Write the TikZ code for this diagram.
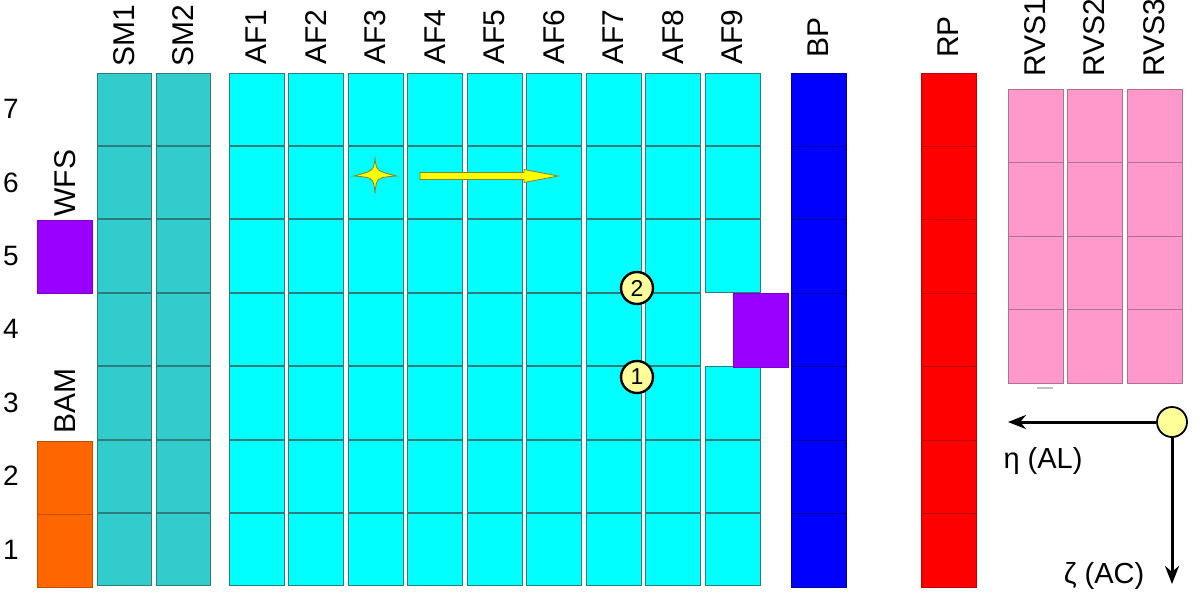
\documentclass[tikz,border=0pt]{standalone}
\usepackage{fontspec}
\setmainfont{Liberation Sans}
\usetikzlibrary{arrows.meta}
\definecolor{smteal}{RGB}{51,204,204}
\definecolor{afcyan}{RGB}{0,255,255}
\definecolor{tileb}{RGB}{45,125,125}
\definecolor{bpblue}{RGB}{0,0,255}
\definecolor{bpline}{RGB}{0,0,160}
\definecolor{rpred}{RGB}{255,0,0}
\definecolor{rpline}{RGB}{190,0,0}
\definecolor{rvspink}{RGB}{255,153,204}
\definecolor{rvsline}{RGB}{176,112,144}
\definecolor{wfspurple}{RGB}{153,0,255}
\definecolor{bamorange}{RGB}{255,102,0}
\definecolor{bamline}{RGB}{190,80,0}
\definecolor{markyellow}{RGB}{255,255,153}
\definecolor{staryellow}{RGB}{255,255,0}
\definecolor{starline}{RGB}{130,130,40}
\tikzset{
  smtile/.style={fill=smteal,draw=tileb,line width=0.5pt},
  aftile/.style={fill=afcyan,draw=tileb,line width=0.5pt},
  bptile/.style={fill=bpblue,draw=bpline,line width=0.5pt},
  rptile/.style={fill=rpred,draw=rpline,line width=0.5pt},
  rvstile/.style={fill=rvspink,draw=rvsline,line width=0.5pt},
  wfstile/.style={fill=wfspurple,draw=wfspurple!80!black,line width=0.5pt},
  bamtile/.style={fill=bamorange,draw=bamline,line width=0.5pt},
  collabel/.style={rotate=90,font=\fontsize{15}{17}\selectfont,inner sep=0pt},
  rowlabel/.style={font=\fontsize{14}{16}\selectfont,inner sep=0pt},
  marker/.style={circle,fill=markyellow,draw=black,line width=1.2pt,minimum size=16pt,inner sep=0pt,font=\fontsize{11.5}{13}\selectfont},
  originmark/.style={circle,fill=markyellow,draw=black,line width=0.9pt,minimum size=15pt,inner sep=0pt},
  axisarrow/.style={line width=1.5pt,-{Stealth[length=9pt,width=7pt]}},
  axislabel/.style={font=\fontsize{14.5}{17}\selectfont,inner sep=0pt},
}
\begin{document}
\begin{tikzpicture}[x=0.5pt,y=-0.5pt]
\useasboundingbox (0,0) rectangle (1200,612);
% SM columns
\foreach \x in {97,156}{
  \foreach \r in {1,...,7}{
    \pgfmathsetmacro\yt{73+(7-\r)*73.43}
    \draw[smtile] (\x,\yt) rectangle ++(54.5,72.3);
  }
}
% AF1-AF8
\foreach \i in {0,...,7}{
  \pgfmathsetmacro\xl{229+\i*59.5}
  \foreach \r in {1,...,7}{
    \pgfmathsetmacro\yt{73+(7-\r)*73.43}
    \draw[aftile] (\xl,\yt) rectangle ++(55,72.3);
  }
}
% AF9
\foreach \r in {1,2,3,5,6,7}{
  \pgfmathsetmacro\yt{73+(7-\r)*73.43}
  \draw[aftile] (705,\yt) rectangle ++(55,72.3);
}
\draw[wfstile] (733,293) rectangle (788,367);
% BP and RP
\foreach \r in {1,...,7}{
  \pgfmathsetmacro\yt{73+(7-\r)*73.43}
  \draw[bptile] (791,\yt) rectangle ++(55,73.43);
  \draw[rptile] (921,\yt) rectangle ++(55,73.43);
}
% RVS
\foreach \x in {1008,1067,1127}{
  \foreach \k in {0,...,3}{
    \pgfmathsetmacro\yt{89+\k*73.5}
    \draw[rvstile] (\x,\yt) rectangle ++(55,73.5);
  }
}
\draw[black!25,line width=0.6pt] (1037,388) -- (1053,388);
% WFS and BAM
\draw[wfstile] (37,220) rectangle (92,293);
\draw[bamtile] (37,441) rectangle (92,514);
\draw[bamtile] (37,514) rectangle (92,587);
% column labels
\node[collabel] (lsm1) at (124,36) {SM1};
\node[collabel] (lsm2) at (183,36) {SM2};
\foreach \i in {1,...,9}{
  \pgfmathsetmacro\xc{229+27.5+(\i-1)*59.5}
  \node[collabel] (laf\i) at (\xc,37) {AF\i};
}
\node[collabel] (lbp) at (818.5,37) {BP};
\node[collabel] (lrp) at (948.5,37) {RP};
\node[collabel] (lrvs1) at (1035.5,38) {RVS1};
\node[collabel] (lrvs2) at (1094.5,38) {RVS2};
\node[collabel] (lrvs3) at (1154.5,38) {RVS3};
\node[collabel] (lwfs) at (65,183) {WFS};
\node[collabel] (lbam) at (65,401) {BAM};
% row labels
\foreach \r in {1,...,7}{
  \pgfmathsetmacro\yc{73+(7-\r)*73.43+36}
  \node[rowlabel] (row\r) at (11,\yc) {\r};
}
% star
\draw[fill=staryellow,draw=starline,line width=0.4pt]
  (375,158.5) .. controls (376.5,171) .. (396.5,176)
  .. controls (376.5,177.5) .. (375,193.5)
  .. controls (373.5,177.5) .. (353.5,176)
  .. controls (373.5,171) .. cycle;
% scan arrow
\draw[fill=staryellow,draw=starline,line width=0.4pt]
  (420,172.5) -- (524,172.5) -- (524,169.5) -- (558,176) -- (524,182.5) -- (524,179.5) -- (420,179.5) -- cycle;
% markers
\node[marker] (m2) at (637,288) {2};
\node[marker] (m1) at (637,377) {1};
% axes
\node[originmark] (origin) at (1172,422) {};
\coordinate (etaend) at (1008,422);
\coordinate (zetaend) at (1172,584);
\draw[axisarrow] (origin.west) -- (etaend);
\draw[axisarrow] (origin.south) -- (zetaend);
\node[axislabel] (eta) at (1043,461) {η (AL)};
\node[axislabel] (zeta) at (1104,576) {ζ (AC)};
\end{tikzpicture}
\end{document}
